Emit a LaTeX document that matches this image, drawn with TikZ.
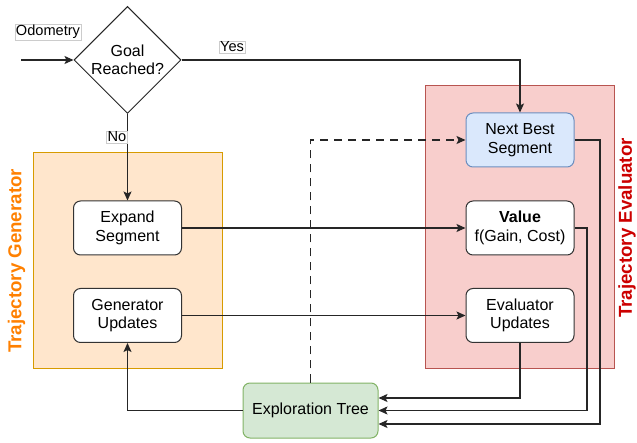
\documentclass[tikz,border=0pt]{standalone}
\usepackage{fontspec}
\setmainfont{Liberation Sans}
\usetikzlibrary{shapes.geometric,arrows.meta}
\definecolor{genfill}{HTML}{FFE6CC}
\definecolor{genstroke}{HTML}{D79B00}
\definecolor{evfill}{HTML}{F8CECC}
\definecolor{evstroke}{HTML}{B85450}
\definecolor{bluefill}{HTML}{DAE8FC}
\definecolor{bluestroke}{HTML}{6C8EBF}
\definecolor{greenfill}{HTML}{D5E8D4}
\definecolor{greenstroke}{HTML}{82B366}
\definecolor{gentitle}{HTML}{FF8000}
\definecolor{evtitle}{HTML}{CC0000}
\begin{document}
\begin{tikzpicture}[x=1pt,y=-1pt,
  every node/.style={font=\fontsize{16}{18.5}\selectfont},
  groupbox/.style={draw, line width=1pt, inner sep=0pt},
  procbox/.style={draw=black!80, fill=white, rounded corners=7pt, line width=1pt,
    minimum width=108pt, minimum height=54pt, inner sep=0pt, align=center},
  lbl/.style={draw=black!20, fill=white, inner sep=1pt, line width=0.6pt,
    font=\fontsize{14.6}{16}\selectfont},
  titletext/.style={rotate=90, font=\fontsize{18.7}{20}\selectfont\bfseries},
  conn/.style={line width=1.2pt, draw=black!85},
  arr/.style={conn, -{Stealth[length=9pt,width=8pt,inset=2pt]}}
]
\useasboundingbox (0,0) rectangle (637,443);

% group boxes
\node[groupbox, draw=genstroke, fill=genfill, minimum width=189pt, minimum height=216pt] (gen) at (127.5,261) {};
\node[groupbox, draw=evstroke, fill=evfill, minimum width=189pt, minimum height=283pt] (ev) at (519.5,227.5) {};
\node[titletext, text=gentitle] (gtitle) at (16.5,261) {Trajectory Generator};
\node[titletext, text=evtitle] (etitle) at (627,228) {Trajectory Evaluator};

% decision
\node[draw=black!85, fill=white, diamond, aspect=1, line width=1pt, inner sep=0pt,
  minimum width=107pt, minimum height=107pt, align=center] (dia) at (127.5,60) {Goal\\Reached?};

% process nodes
\node[procbox] (exp) at (127.5,228) {Expand\\Segment};
\node[procbox] (genu) at (127.5,315.5) {Generator\\Updates};
\node[procbox, fill=bluefill, draw=bluestroke] (nbs) at (520,140) {Next Best\\Segment};
\node[procbox] (val) at (520,228) {\textbf{Value}\\f(Gain, Cost)};
\node[procbox] (evu) at (520,315.5) {Evaluator\\Updates};
\node[procbox, fill=greenfill, draw=greenstroke, minimum width=135pt, minimum height=55pt] (tree) at (310.5,410.5) {Exploration Tree};

% helper coordinates
\coordinate (odo) at (21,60);
\coordinate (vx) at (587,0);
\coordinate (nx) at (600,0);
\coordinate (t1) at ([yshift=12.5pt]tree.east);
\coordinate (t3) at ([yshift=-13.5pt]tree.east);

% connectors
\draw[arr] (odo) -- (dia.west);
\draw[arr] (dia.east) -| (nbs.north);
\draw[arr] (dia.south) -- (exp.north);
\draw[arr] (exp.east) -- (val.west);
\draw[arr] (genu.east) -- (evu.west);
\draw[arr] (tree.west) -| (genu.south);
\draw[arr, dashed, dash pattern=on 8pt off 6pt] (tree.north) |- (nbs.west);
\draw[arr] (evu.south) |- (t1);
\draw[arr] (val.east) -| (vx |- tree.east) -- (tree.east);
\draw[arr] (nbs.east) -| (nx |- t3) -- (t3);

% labels
\node[lbl] (lodo) at (48,32) {Odometry};
\node[lbl] (lyes) at (232,47) {Yes};
\node[lbl] (lno) at (117,137) {No};
\end{tikzpicture}
\end{document}
